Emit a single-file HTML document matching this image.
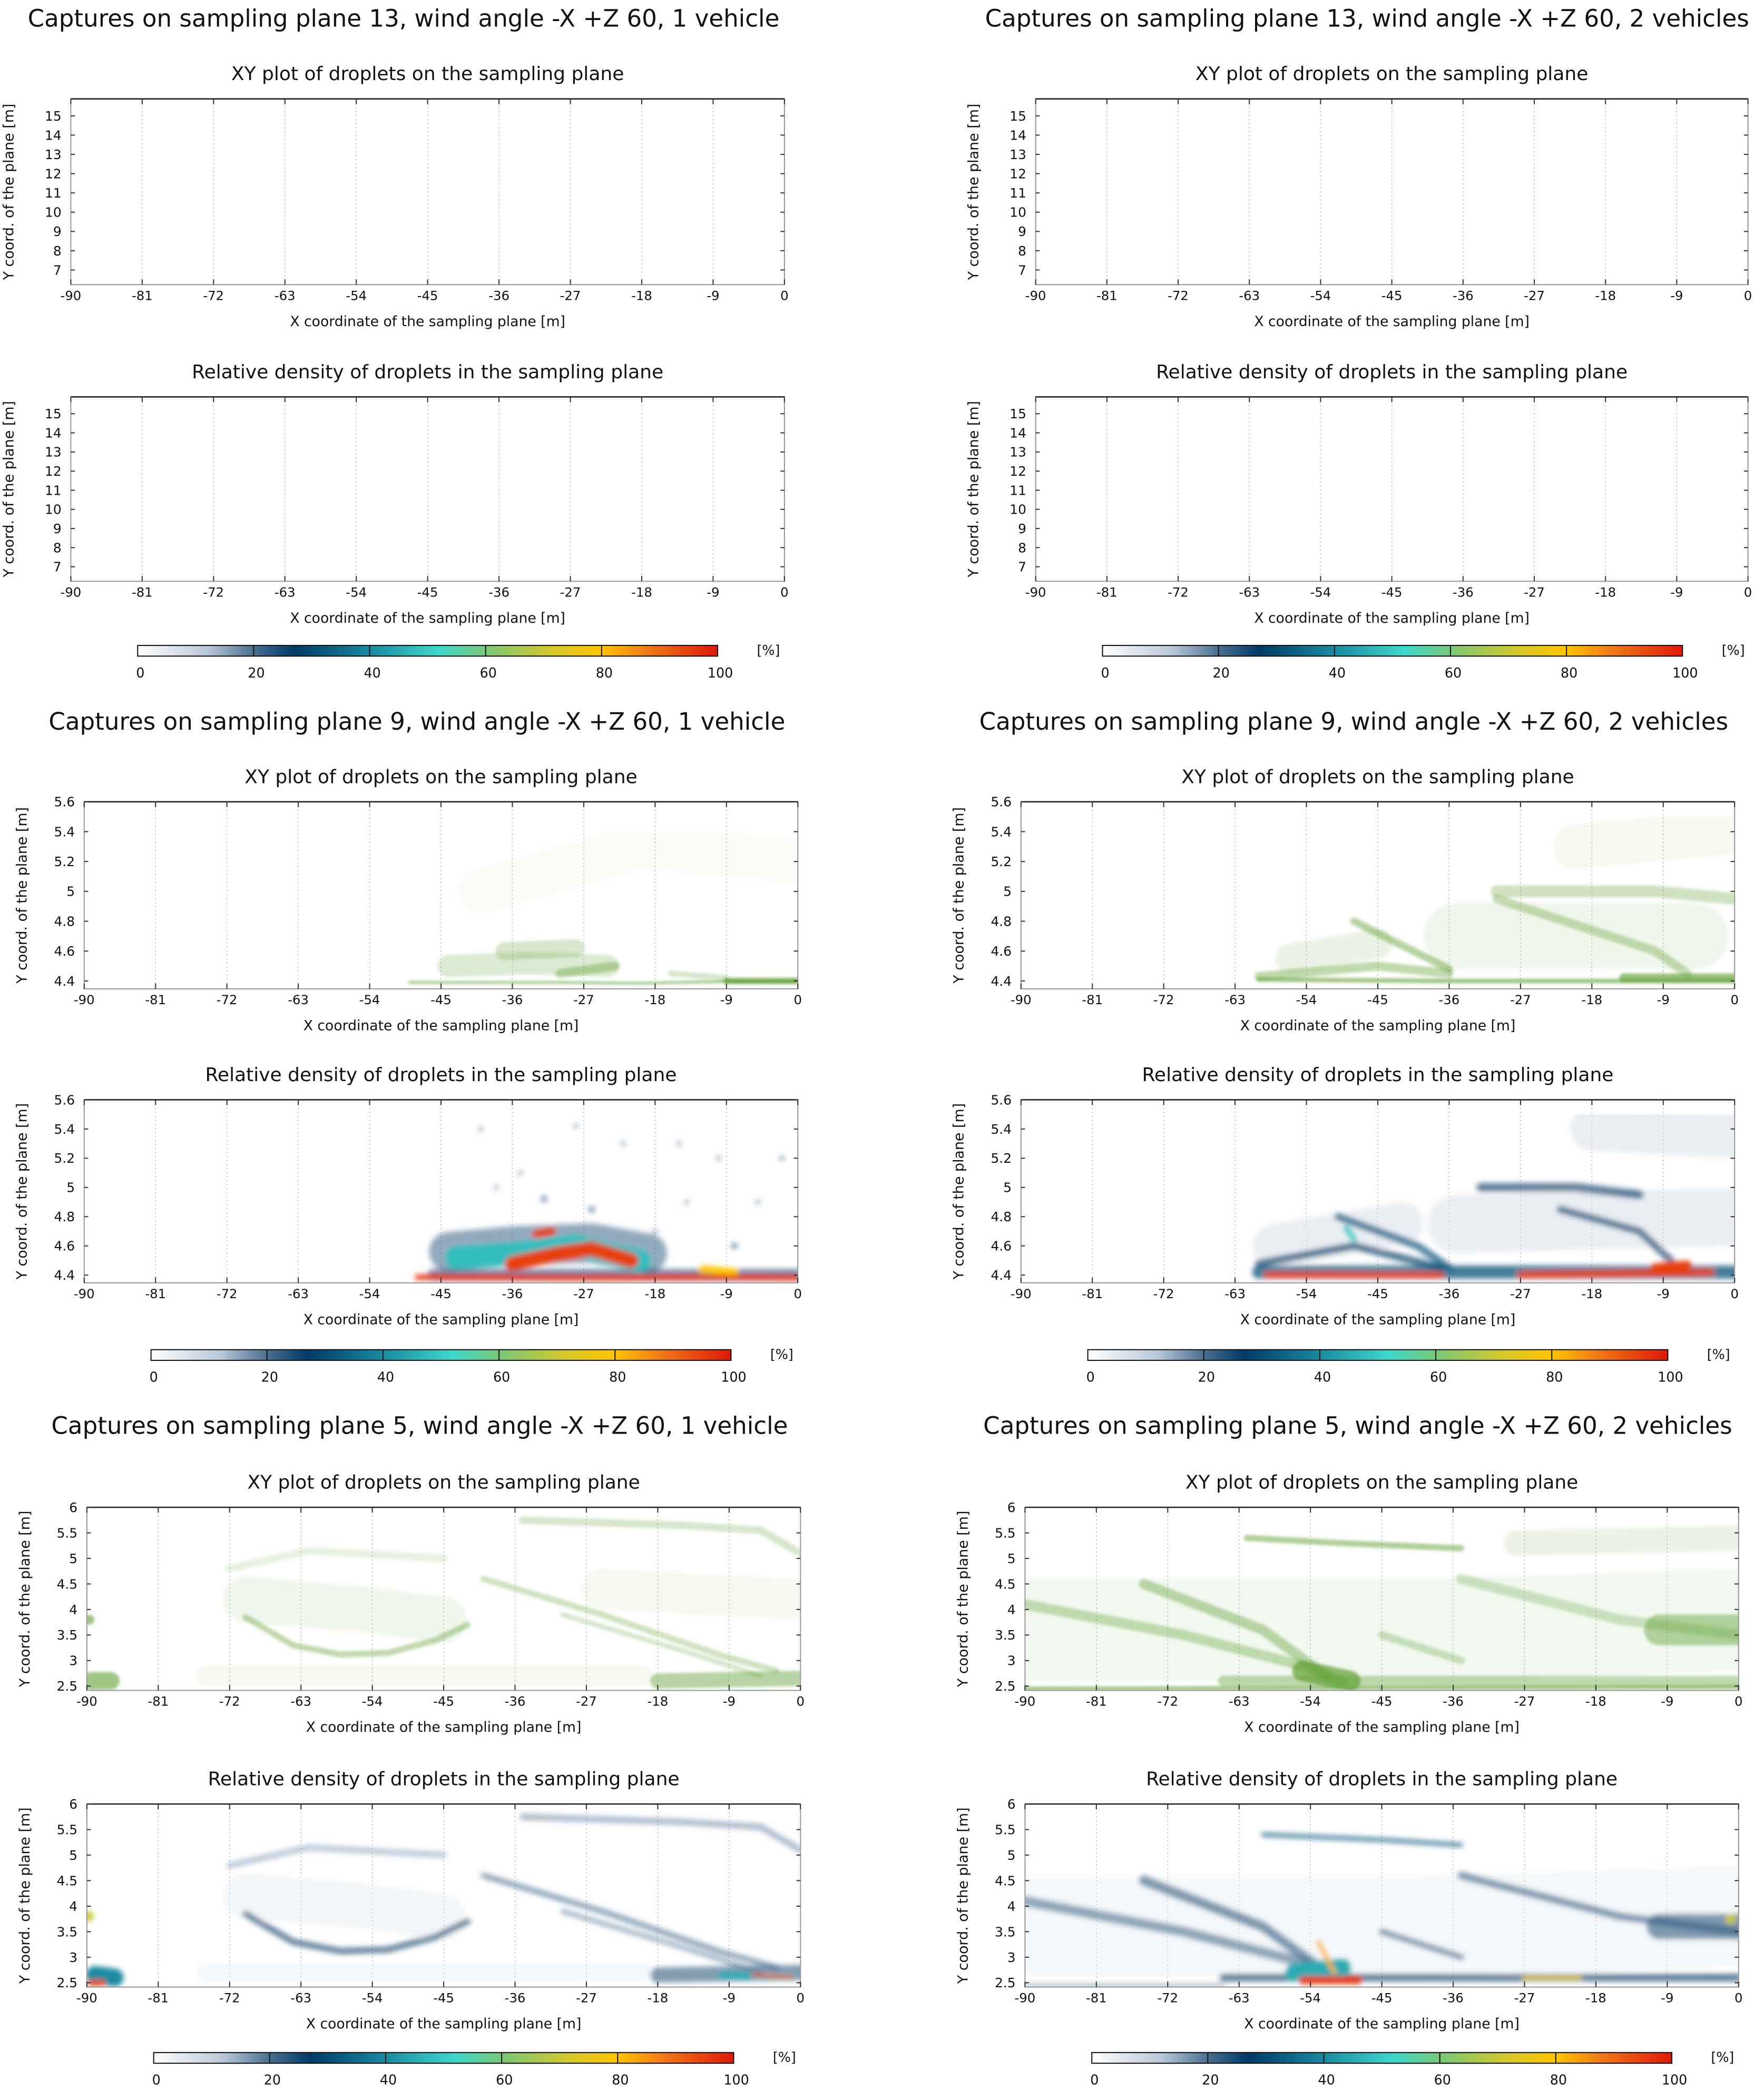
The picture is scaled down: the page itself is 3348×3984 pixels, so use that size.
<!DOCTYPE html>
<html><head><meta charset="utf-8"><style>
html,body{margin:0;padding:0;background:#fff}
svg{display:block}
text{font-family:"DejaVu Sans","Liberation Sans",sans-serif;fill:#111}
</style></head><body>
<svg id="chart" xmlns="http://www.w3.org/2000/svg" width="3348" height="3984" viewBox="0 0 1320 1570.75" preserveAspectRatio="none">
<defs>
<linearGradient id="cmap" x1="0" x2="1" y1="0" y2="0">
<stop offset="0" stop-color="#ffffff"/><stop offset="0.12" stop-color="#b8c8d8"/><stop offset="0.2" stop-color="#4a6f90"/>
<stop offset="0.27" stop-color="#003a66"/><stop offset="0.4" stop-color="#1a8aa0"/><stop offset="0.52" stop-color="#3ed8cc"/>
<stop offset="0.6" stop-color="#78c878"/><stop offset="0.72" stop-color="#d8c828"/><stop offset="0.8" stop-color="#ffc400"/>
<stop offset="0.88" stop-color="#f07818"/><stop offset="1" stop-color="#e01808"/>
</linearGradient>
<filter id="soft" x="-10%" y="-10%" width="120%" height="120%"><feGaussianBlur stdDeviation="2"/></filter>
<filter id="soft2" x="-10%" y="-10%" width="120%" height="120%"><feGaussianBlur stdDeviation="1"/></filter>
</defs>
</svg>
<script>
// ---- data (x, y in plot data coordinates; w = band thickness in y units; v = intensity / percent) ----
const xTicks = [-90,-81,-72,-63,-54,-45,-36,-27,-18,-9,0];
const yTicks13 = [7,8,9,10,11,12,13,14,15];
const yTicks9 = [4.4,4.6,4.8,5,5.2,5.4,5.6];
const yTicks5 = [2.5,3,3.5,4,4.5,5,5.5,6];
const cbTicks = [0,20,40,60,80,100];

const p9a_xy = [
 {pts:[[-49,4.39],[-30,4.39],[-20,4.385],[-10,4.395],[0,4.4]], w:0.015, v:0.7},
 {pts:[[-9,4.4],[0,4.4]], w:0.04, v:0.8},
 {pts:[[-44,4.5],[-34,4.52],[-24,4.5]], w:0.15, v:0.22},
 {pts:[[-37,4.6],[-28,4.62]], w:0.12, v:0.25},
 {pts:[[-30,4.45],[-23,4.5]], w:0.06, v:0.4},
 {pts:[[-16,4.45],[-9,4.42]], w:0.04, v:0.25},
 {pts:[[-40,5.0],[-20,5.3],[0,5.2]], w:0.3, v:0.03}
];
const p9a_d = [
 {pts:[[-46,4.4],[0,4.4]], w:0.08, v:25},
 {pts:[[-44,4.56],[-36,4.6],[-26,4.62],[-19,4.55]], w:0.27, v:20},
 {pts:[[-43,4.52],[-35,4.55],[-28,4.6],[-20,4.5]], w:0.15, v:48},
 {pts:[[-36,4.48],[-30,4.55],[-26,4.58],[-21,4.5]], w:0.1, v:95},
 {pts:[[-33,4.68],[-31,4.7]], w:0.05, v:95},
 {pts:[[-48,4.385],[-25,4.38],[-10,4.385],[0,4.38]], w:0.035, v:96},
 {pts:[[-12,4.44],[-8,4.42]], w:0.05, v:80},
 {pts:[[-40,5.4]], w:0.03, v:22},{pts:[[-35,5.1]], w:0.03, v:22},{pts:[[-28,5.42]], w:0.03, v:22},
 {pts:[[-22,5.3]], w:0.03, v:22},{pts:[[-15,5.3]], w:0.03, v:22},{pts:[[-10,5.2]], w:0.03, v:22},
 {pts:[[-2,5.2]], w:0.03, v:25},{pts:[[-5,4.9]], w:0.03, v:22},{pts:[[-14,4.9]], w:0.03, v:22},
 {pts:[[-38,5.0]], w:0.03, v:22},{pts:[[-32,4.92]], w:0.04, v:25},{pts:[[-26,4.85]], w:0.04, v:25},
 {pts:[[-18,4.7]], w:0.03, v:22},{pts:[[-8,4.6]], w:0.04, v:25}
];
const p9b_xy = [
 {pts:[[-60,4.41],[-36,4.4],[0,4.4]], w:0.03, v:0.6},
 {pts:[[-14,4.42],[0,4.42]], w:0.06, v:0.65},
 {pts:[[-60,4.43],[-45,4.5],[-36,4.45]], w:0.06, v:0.4},
 {pts:[[-48,4.8],[-36,4.48]], w:0.05, v:0.45},
 {pts:[[-56,4.55],[-45,4.65]], w:0.2, v:0.12},
 {pts:[[-30,5.0],[-10,5.0],[0,4.95]], w:0.08, v:0.3},
 {pts:[[-30,4.95],[-10,4.6],[-6,4.45]], w:0.06, v:0.35},
 {pts:[[-35,4.7],[-5,4.7]], w:0.45, v:0.09},
 {pts:[[-20,5.3],[0,5.4]], w:0.3, v:0.06}
];
const p9b_d = [
 {pts:[[-58,4.6],[-42,4.75]], w:0.3, v:8},
 {pts:[[-35,4.75],[0,4.8]], w:0.4, v:8},
 {pts:[[-18,5.4],[0,5.35]], w:0.3, v:8},
 {pts:[[-60,4.42],[0,4.42]], w:0.09, v:30},
 {pts:[[-60,4.48],[-48,4.6],[-37,4.45]], w:0.05, v:28},
 {pts:[[-50,4.8],[-40,4.6],[-36,4.45]], w:0.05, v:32},
 {pts:[[-49,4.72],[-48,4.65]], w:0.04, v:50},
 {pts:[[-32,5.0],[-20,5.0],[-12,4.95]], w:0.06, v:26},
 {pts:[[-22,4.85],[-12,4.7],[-8,4.5]], w:0.05, v:26},
 {pts:[[-59,4.4],[-37,4.4]], w:0.035, v:95},
 {pts:[[-27,4.4],[-3,4.42]], w:0.04, v:95},
 {pts:[[-10,4.45],[-6,4.47]], w:0.06, v:95}
];
const p5a_xy = [
 {pts:[[-75,2.7],[-20,2.7]], w:0.4, v:0.06},
 {pts:[[-25,4.4],[0,4.2]], w:0.8, v:0.06},
 {pts:[[-70,4.2],[-55,4.0],[-45,3.8]], w:0.9, v:0.09},
 {pts:[[-72,4.8],[-62,5.15],[-45,5.0]], w:0.15, v:0.15},
 {pts:[[-89.5,2.6],[-87,2.6]], w:0.35, v:0.6},
 {pts:[[-89.7,3.8]], w:0.2, v:0.6},
 {pts:[[-70,3.85],[-64,3.3],[-58,3.12],[-52,3.15],[-46,3.4],[-42,3.7]], w:0.12, v:0.4},
 {pts:[[-40,4.6],[-25,3.9],[-10,3.1],[-3,2.8]], w:0.12, v:0.3},
 {pts:[[-30,3.9],[-15,3.2],[-5,2.7]], w:0.1, v:0.25},
 {pts:[[-35,5.75],[-15,5.65],[-5,5.55],[0,5.1]], w:0.15, v:0.25},
 {pts:[[-18,2.6],[0,2.65]], w:0.3, v:0.45}
];
const p5a_d = [
 {pts:[[-75,2.7],[-20,2.7]], w:0.4, v:4},
 {pts:[[-70,4.2],[-55,4.0],[-45,3.8]], w:0.9, v:5},
 {pts:[[-72,4.8],[-62,5.15],[-45,5.0]], w:0.12, v:16},
 {pts:[[-70,3.85],[-64,3.3],[-58,3.12],[-52,3.15],[-46,3.4],[-42,3.7]], w:0.12, v:26},
 {pts:[[-40,4.6],[-25,3.9],[-10,3.1],[-3,2.8]], w:0.1, v:22},
 {pts:[[-30,3.9],[-15,3.2],[-5,2.7]], w:0.08, v:20},
 {pts:[[-35,5.75],[-15,5.65],[-5,5.55],[0,5.1]], w:0.12, v:18},
 {pts:[[-18,2.65],[0,2.7]], w:0.3, v:22},
 {pts:[[-89,2.65],[-86.5,2.6]], w:0.35, v:40},
 {pts:[[-89.5,2.5],[-88,2.5]], w:0.12, v:95},
 {pts:[[-89.8,3.8]], w:0.2, v:70},
 {pts:[[-10,2.65],[-1,2.6]], w:0.12, v:45},
 {pts:[[-6,2.65],[-1,2.6]], w:0.06, v:92}
];
const p5b_xy = [
 {pts:[[-90,3.6],[-70,3.6],[-40,3.6],[0,3.8]], w:2.0, v:0.08},
 {pts:[[-28,5.3],[0,5.4]], w:0.5, v:0.12},
 {pts:[[-62,5.4],[-50,5.3],[-35,5.2]], w:0.12, v:0.5},
 {pts:[[-90,4.1],[-70,3.5],[-55,2.9],[-50,2.6]], w:0.2, v:0.35},
 {pts:[[-75,4.5],[-60,3.6],[-52,2.7]], w:0.2, v:0.4},
 {pts:[[-55,2.8],[-49,2.6]], w:0.4, v:0.7},
 {pts:[[-90,2.45],[0,2.48]], w:0.08, v:0.6},
 {pts:[[-65,2.6],[0,2.6]], w:0.2, v:0.4},
 {pts:[[-10,3.6],[0,3.6]], w:0.6, v:0.45},
 {pts:[[-35,4.6],[-15,3.8],[0,3.5]], w:0.2, v:0.28},
 {pts:[[-45,3.5],[-35,3.0]], w:0.15, v:0.3}
];
const p5b_d = [
 {pts:[[-90,3.6],[-70,3.6],[-40,3.6],[0,3.8]], w:2.0, v:4},
 {pts:[[-90,4.1],[-70,3.5],[-55,2.9],[-50,2.6]], w:0.2, v:20},
 {pts:[[-75,4.5],[-60,3.6],[-52,2.7]], w:0.2, v:22},
 {pts:[[-35,4.6],[-15,3.8],[0,3.5]], w:0.15, v:22},
 {pts:[[-45,3.5],[-35,3.0]], w:0.12, v:22},
 {pts:[[-65,2.6],[0,2.6]], w:0.15, v:26},
 {pts:[[-90,2.45],[-65,2.45]], w:0.05, v:22},
 {pts:[[-10,3.6],[0,3.6]], w:0.5, v:22},
 {pts:[[-60,5.4],[-45,5.3],[-35,5.2]], w:0.08, v:32},
 {pts:[[-56,2.7],[-50,2.8]], w:0.35, v:45},
 {pts:[[-53,3.3],[-51,2.7]], w:0.08, v:82},
 {pts:[[-55,2.55],[-48,2.55]], w:0.15, v:96},
 {pts:[[-27,2.6],[-20,2.6]], w:0.06, v:75},
 {pts:[[-1,3.75]], w:0.2, v:70}
];

// ---- rendering ----
const NS = 'http://www.w3.org/2000/svg';
const svg = document.getElementById('chart');
function mk(tag, attrs, parent){ const e=document.createElementNS(NS,tag); for(const k in attrs) e.setAttribute(k,attrs[k]); (parent||svg).appendChild(e); return e; }
function txt(str, attrs, parent){ const t=mk('text',attrs,parent); t.textContent=str; return t; }

const cmapStops=[[0,[255,255,255]],[12,[184,200,216]],[20,[74,111,144]],[27,[0,58,102]],[40,[26,138,160]],[52,[62,216,204]],[60,[120,200,120]],[72,[216,200,40]],[80,[255,196,0]],[88,[240,120,24]],[100,[224,24,8]]];
function cmap(v){ for(let i=1;i<cmapStops.length;i++){ if(v<=cmapStops[i][0]){ const a=cmapStops[i-1],b=cmapStops[i]; const t=(v-a[0])/(b[0]-a[0]); const c=a[1].map((x,j)=>Math.round(x+(b[1][j]-x)*t)); return 'rgb('+c.join(',')+')'; } } return 'rgb(224,24,8)'; }

let clipId=0;
function plot(o){
  const g=mk('g',{});
  
  
  const [x0,x1,y0,y1]=o.box;
  const sx=x=>x0+(x-(-90))/90*(x1-x0);
  const sy=y=>y1-(y-o.yr[0])/(o.yr[1]-o.yr[0])*(y1-y0);
  const t=txt(o.title,{x:(x0+x1)/2,y:y0-14,'text-anchor':'middle','font-size':14.2},g);
  
  
  xTicks.forEach(v=>{ if(v>-90&&v<0){ const l=mk('line',{x1:sx(v),x2:sx(v),y1:y0,y2:y1,stroke:'#bbb','stroke-width':0.6,'stroke-dasharray':'1 2'},g);   } });
  clipId++;
  const cp=mk('clipPath',{id:'cp'+clipId},g); mk('rect',{x:x0,y:y0,width:x1-x0,height:y1-y0},cp);
  const dg=mk('g',{'clip-path':'url(#cp'+clipId+')'},g);
  const inner=mk('g',{filter:o.kind==='xy'?'url(#soft2)':'url(#soft)'},dg);
  const pxPerY=(y1-y0)/(o.yr[1]-o.yr[0]);
  const arr=o.kind==='xy'?o.data:o.data.slice().sort((a,b)=>a.v-b.v);
  arr.forEach(s=>{
    let d=s.pts.map((p,i)=>(i?'L':'M')+sx(p[0]).toFixed(1)+' '+sy(p[1]).toFixed(1)).join(' ');
    if(s.pts.length===1) d+=' l0.01 0';
    const col=o.kind==='xy'?'#5fa032':cmap(s.v);
    const op=o.kind==='xy'?s.v:(s.v<40?0.35+s.v/80:1);
    const p=mk('path',{d:d,fill:'none',stroke:col,'stroke-opacity':op,'stroke-width':Math.max(0.8,s.w*pxPerY),'stroke-linecap':'round','stroke-linejoin':'round'},inner);
    
    
  });
  const fr=mk('rect',{x:x0,y:y0,width:x1-x0,height:y1-y0,fill:'none',stroke:'#999','stroke-width':0.8},g);
   
  mk('line',{x1:x0,x2:x1,y1:y0,y2:y0,stroke:'#222','stroke-width':1},g);
  xTicks.forEach(v=>{
    mk('line',{x1:sx(v),x2:sx(v),y1:y1,y2:y1-4,stroke:'#333','stroke-width':0.8},g);
    mk('line',{x1:sx(v),x2:sx(v),y1:y0,y2:y0+4,stroke:'#333','stroke-width':0.8},g);
    const l=txt(String(v),{x:sx(v),y:y1+11.5,'text-anchor':'middle','font-size':9.6},g);
     
  });
  o.yt.forEach(v=>{
    mk('line',{x1:x0,x2:x0+3,y1:sy(v),y2:sy(v),stroke:'#333','stroke-width':0.8},g);
    mk('line',{x1:x1,x2:x1-3,y1:sy(v),y2:sy(v),stroke:'#333','stroke-width':0.8},g);
    const l=txt(String(v),{x:x0-7,y:sy(v)+3.5,'text-anchor':'end','font-size':9.8},g);
     
  });
  const xl=txt('X coordinate of the sampling plane [m]',{x:(x0+x1)/2,y:y1+31,'text-anchor':'middle','font-size':10.5},g);
   
  const yx=x0-43, yc=(y0+y1)/2;
  const yl=txt('Y coord. of the plane [m]',{x:yx,y:yc,'text-anchor':'middle','font-size':10.6,transform:'rotate(-90 '+yx+' '+yc+')'},g);
   
}
function colorbar(x0,x1,y){
  const g=mk('g',{});
  
  
  mk('rect',{x:x0,y:y,width:x1-x0,height:8,fill:'url(#cmap)',stroke:'#111','stroke-width':0.8},g);
  cbTicks.forEach(v=>{
    const x=x0+v/100*(x1-x0);
    if(v>0&&v<100) mk('line',{x1:x,x2:x,y1:y,y2:y+8,stroke:'#111','stroke-width':0.8},g);
    const l=txt(String(v),{x:x+2,y:y+24,'text-anchor':'middle','font-size':10},g);
     
  });
  const u=txt('[%]',{x:x1+38,y:y+7,'text-anchor':'middle','font-size':10},g);
   
}
function title(s,x,y){ const t=txt(s,{x:x,y:y,'text-anchor':'middle','font-size':17.8});   }

const cols=[
 {xs:[[53,587],[775,1308]], tx:[302,1023], ty:20, xy:[74,213], dn:[297,435], cb:483, yr:[6.24,15.88], yt:yTicks13},
 {xs:[[63,597],[764,1298]], tx:[312,1013], ty:546, xy:[600,740], dn:[823,960], cb:1010, yr:[4.347,5.6], yt:yTicks9},
 {xs:[[65,599],[767,1301]], tx:[314,1016], ty:1073, xy:[1128,1265], dn:[1350,1487], cb:1536, yr:[2.415,6], yt:yTicks5}
];
const planes=['13','9','5'];
const xyData=[[[],[]],[p9a_xy,p9b_xy],[p5a_xy,p5b_xy]];
const dnData=[[[],[]],[p9a_d,p9b_d],[p5a_d,p5b_d]];
cols.forEach((r,ri)=>{
  [0,1].forEach(ci=>{
    title('Captures on sampling plane '+planes[ri]+', wind angle -X +Z 60, '+(ci?'2 vehicles':'1 vehicle'), r.tx[ci], r.ty);
    const [a,b]=r.xs[ci];
    plot({name:'xy-plot-plane'+planes[ri]+'-'+(ci+1)+'veh',title:'XY plot of droplets on the sampling plane',box:[a,b,r.xy[0],r.xy[1]],yr:r.yr,yt:r.yt,kind:'xy',data:xyData[ri][ci]});
    plot({name:'density-plot-plane'+planes[ri]+'-'+(ci+1)+'veh',title:'Relative density of droplets in the sampling plane',box:[a,b,r.dn[0],r.dn[1]],yr:r.yr,yt:r.yt,kind:'d',data:dnData[ri][ci]});
    colorbar(a+50,a+484,r.cb);
  });
});
</script>
</body></html>
